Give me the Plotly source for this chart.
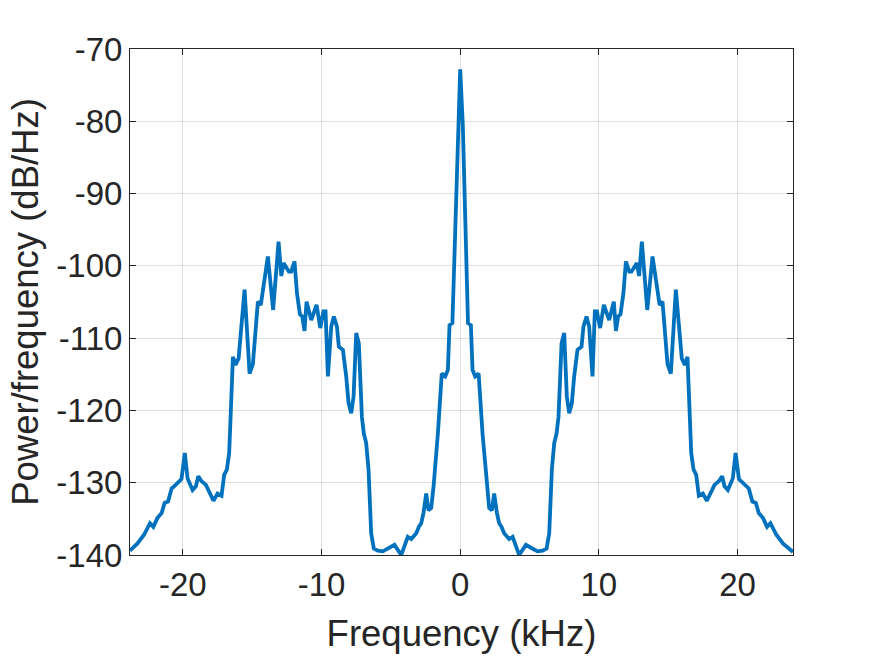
import plotly.graph_objects as go

# Negative-frequency half of the (symmetric) two-sided PSD
freq_neg_khz = [
    -23.8125, -23.27, -22.8, -22.37, -22.13, -21.84, -21.53, -21.32, -21.07, -20.81,
    -20.52, -20.28, -20.1, -19.86, -19.66, -19.3, -19.06, -18.89, -18.65, -18.34,
    -18.1, -17.79, -17.5, -17.21, -17.02, -16.83, -16.66, -16.39, -16.2, -15.98,
    -15.55, -15.19, -14.95, -14.59, -14.38, -13.87, -13.49, -13.1, -12.9, -12.74,
    -12.35, -12.19, -11.95, -11.77, -11.56, -11.39, -11.23, -11.08, -10.74, -10.36,
    -10.09, -9.86, -9.71, -9.54, -9.30, -9.11, -8.89, -8.75, -8.46, -8.22,
    -8.05, -7.86, -7.69, -7.5, -7.31, -7.09, -6.95, -6.78, -6.61, -6.42,
    -6.23, -5.94, -5.58, -5.2, -4.74, -4.25, -3.78, -3.53, -3.17, -2.98,
    -2.81, -2.65, -2.45, -2.29, -2.09, -1.92, -1.61, -1.33, -1.08, -0.89,
    -0.77, -0.5625, -0.375, -0.1875,
]
psd_neg_db = [
    -139.4, -138.4, -137.2, -135.6, -136.1, -134.9, -134.2, -132.8, -132.6, -130.8,
    -130.3, -129.8, -129.5, -125.9, -129.4, -131.0, -130.5, -129.1, -129.8, -130.3,
    -131.2, -132.5, -131.5, -131.8, -128.9, -128.2, -125.9, -112.6, -113.7, -112.8,
    -103.3, -114.9, -113.6, -104.95, -105.4, -98.7, -106.1, -96.65, -101.4, -99.6,
    -100.8, -100.8, -99.4, -103.8, -106.7, -107.0, -109.0, -104.95, -107.5, -105.4,
    -108.6, -106.3, -106.3, -115.3, -108.4, -107.0, -108.4, -111.2, -111.6, -115.3,
    -119.0, -120.4, -118.1, -109.3, -110.7, -120.9, -123.2, -124.5, -128.2, -137.0,
    -139.1, -139.4, -139.5, -139.1, -138.6, -140.0, -137.5, -137.8, -137.0, -136.1,
    -135.6, -134.2, -131.5, -133.8, -133.5, -130.5, -123.2, -114.9, -115.3, -114.4,
    -108.2, -107.9, -96.0, -80.5,
]
freq_dc_khz = [0.0]
psd_dc_db = [-72.8]
freq_nyq_khz = [24.0]
psd_nyq_db = [-139.6]

x_ticks = [-20, -10, 0, 10, 20]
y_ticks = [-140, -130, -120, -110, -100, -90, -80, -70]

# two-sided spectrum: negative half, DC, mirrored positive half, Nyquist
freq = freq_neg_khz + freq_dc_khz + [-f for f in reversed(freq_neg_khz[1:])] + freq_nyq_khz
psd = psd_neg_db + psd_dc_db + list(reversed(psd_neg_db[1:])) + psd_nyq_db

ink = "#262626"
grid = "rgba(38,38,38,0.15)"
font = "Liberation Sans, Arial, Helvetica, sans-serif"

fig = go.Figure(go.Scatter(x=freq, y=psd, mode="lines",
                           line=dict(color="#0072BD", width=3.8),
                           showlegend=False, hoverinfo="skip"))

axis_common = dict(showline=True, linecolor=ink, linewidth=1, mirror="ticks",
                   ticks="inside", ticklen=6, tickcolor=ink, tickwidth=1,
                   showgrid=True, gridcolor=grid, gridwidth=1, zeroline=False,
                   tickfont=dict(family=font, size=33, color=ink))

fig.update_xaxes(range=[-23.8125, 24], tickvals=x_ticks,
                 ticktext=[str(v) for v in x_ticks],
                 title=dict(text="Frequency (kHz)", font=dict(family=font, size=36.5, color=ink),
                            standoff=18),
                 **axis_common)
fig.update_yaxes(range=[-140, -70], tickvals=y_ticks,
                 ticktext=[str(v) for v in y_ticks],
                 title=dict(text="Power/frequency (dB/Hz)", font=dict(family=font, size=36.5, color=ink),
                            standoff=6),
                 **axis_common)

fig.update_layout(width=875, height=657, plot_bgcolor="white", paper_bgcolor="white",
                  margin=dict(l=130, r=82, t=49, b=102))

fig.write_html("out.html")
